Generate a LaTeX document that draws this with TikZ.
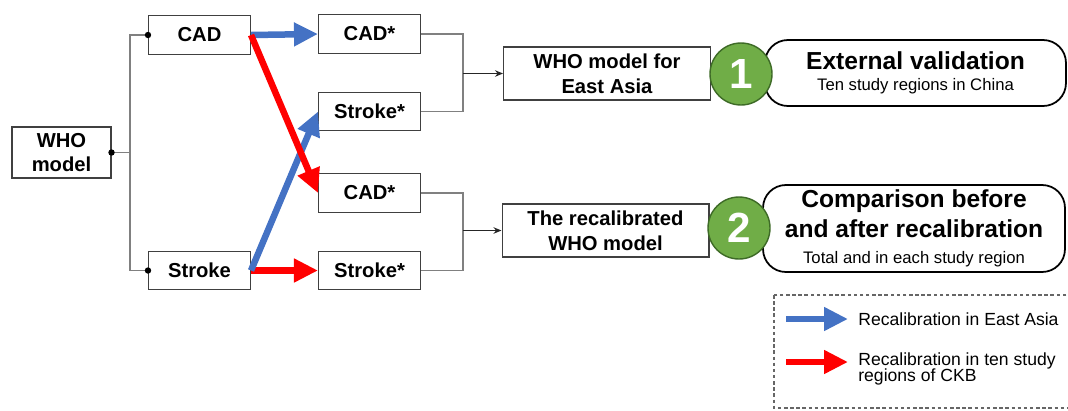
\documentclass[tikz,border=0pt]{standalone}
\usepackage{fontspec}
\setmainfont{Liberation Sans}
\usetikzlibrary{arrows.meta,positioning}
\definecolor{eablue}{HTML}{4472C4}
\definecolor{ckbred}{HTML}{FF0000}
\definecolor{numgreen}{HTML}{70AD47}
\definecolor{numedge}{HTML}{3E6B27}
\definecolor{linegray}{HTML}{808080}
\newcommand{\headfont}{\fontsize{14}{17}\selectfont\bfseries}
\newcommand{\notefont}{\fontsize{9.5}{12}\selectfont\mdseries}

\begin{document}
\begin{tikzpicture}[x=0.02cm, y=-0.02cm,
    box/.style={draw=black!75, line width=0.6pt, fill=white, align=center, inner sep=0pt,
      font=\fontsize{11.5}{14}\selectfont\bfseries},
    small/.style={box, minimum width=2.04cm, minimum height=0.77cm},
    wide/.style={box, minimum width=4.14cm, minimum height=1.06cm},
    result/.style={draw=black, line width=1pt, rounded corners=13pt, fill=white, align=center,
      inner sep=0pt, font=\fontsize{9.5}{13}\selectfont},
    num/.style={circle, draw=numedge, line width=0.8pt, fill=numgreen, text=white,
      minimum size=1.24cm, inner sep=0pt, font=\fontsize{24}{24}\selectfont\bfseries},
    branch/.style={draw=linegray, line width=0.6pt},
    link/.style={draw=black!85, line width=0.6pt, -{Stealth[length=1.6mm, width=1.3mm]}},
    ea/.style={draw=eablue, line width=0.13cm, -{Triangle[length=0.48cm, width=0.45cm]}},
    ckb/.style={ea, draw=ckbred},
    legendtxt/.style={anchor=west, align=left, inner sep=0pt, font=\fontsize{10}{9.5}\selectfont},
  ]
  \useasboundingbox (0,0) rectangle (1068,410);

  \node[box, minimum width=1.98cm, minimum height=1.02cm] (who) at (61.5,152.5) {WHO\\model};
  \node[small] (cad) at (199.5,35) {CAD};
  \node[small] (stroke) at (199.5,270.5) {Stroke};
  \node[small] (cadA) at (369.5,34) {CAD*};
  \node[small] (strokeA) at (369.5,111.5) {Stroke*};
  \node[small] (cadB) at (369.5,193) {CAD*};
  \node[small] (strokeB) at (369.5,270.5) {Stroke*};
  \node[wide] (eastasia) at (607,73.5) {WHO model for\\East Asia};
  \node[wide] (recal) at (605.5,230.5) {The recalibrated\\WHO model};

  \node[result, minimum width=6.02cm, minimum height=1.32cm] (valid) at (915.5,73)
    {\headfont External validation\\[-1pt]\notefont Ten study regions in China};
  \node[result, minimum width=6.04cm, minimum height=1.74cm] (compare) at (914,228.5)
    {\headfont Comparison before\\[3pt]\headfont and after recalibration\\[1.5pt]\notefont Total and in each study region};
  \node[num] (one) at (741,74) {1};
  \node[num] (two) at (739,228) {2};

  \coordinate (split) at (130,152.5);
  \coordinate (mergeA) at (463,73.5);
  \coordinate (mergeB) at (463,230.5);
  \draw[branch] (who.east) -- (split);
  \draw[branch] (cad.west) -| (split) |- (stroke.west);
  \fill (who.east) circle (3.2);
  \fill (cad.west) circle (3.2);
  \fill (stroke.west) circle (3.2);
  \draw[branch] (cadA.east) -| (mergeA) |- (strokeA.east);
  \draw[branch] (cadB.east) -| (mergeB) |- (strokeB.east);
  \draw[link] (mergeA) -- (eastasia.west);
  \draw[link] (mergeB) -- (recal.west);

  \draw[ea] (cad.east) -- (cadA.west);
  \draw[ckb] (stroke.east) -- (strokeB.west);
  \draw[ea] (stroke.east) -- (strokeA.west);
  \draw[ckb] (cad.east) -- (cadB.west);

  % legend
  \draw[draw=black!60, line width=0.6pt, dash pattern=on 2pt off 1.5pt] (774,295) rectangle (1090,408);
  \coordinate (eaL) at (786,319);
  \coordinate (eaR) at (848,319);
  \coordinate (ckbL) at (786,362);
  \coordinate (ckbR) at (848,362);
  \draw[ea] (eaL) -- (eaR);
  \draw[ckb] (ckbL) -- (ckbR);
  \node[legendtxt] (eatext) at (858,319) {Recalibration in East Asia};
  \node[legendtxt] (ckbtext) at (858,369) {Recalibration in ten study\\regions of CKB};
\end{tikzpicture}
\end{document}
